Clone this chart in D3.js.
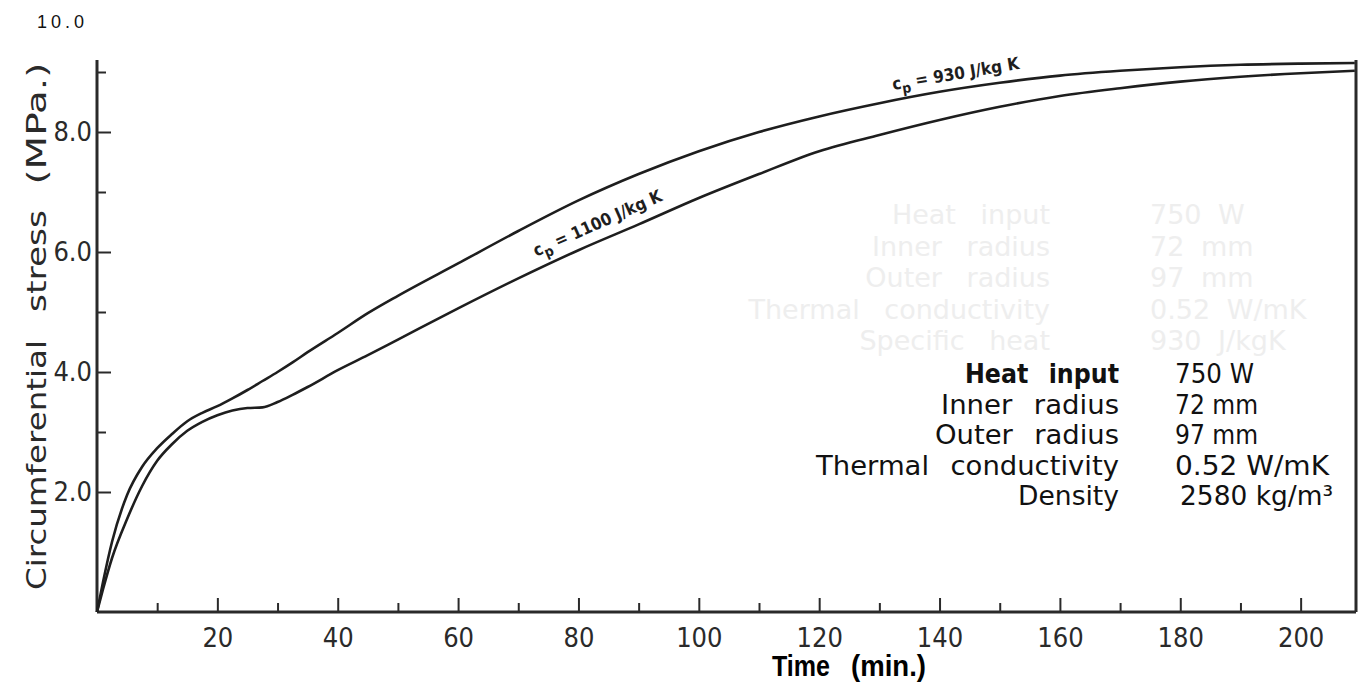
<!DOCTYPE html>
<html>
<head>
<meta charset="utf-8">
<script src="https://cdn.jsdelivr.net/npm/d3@7"></script>
<style>
  body { margin: 0; background: #fff; }
  svg { display: block; }
</style>
</head>
<body>
<script>
// values
var timeMin      = [0, 1, 2.5, 5, 7.5, 10, 12.5, 15, 17.5, 20, 22.5, 25, 27.5, 30, 32.5, 35, 40, 45, 50, 60, 70, 80, 90, 100, 110, 120, 130, 140, 150, 160, 170, 180, 190, 200, 209];
var stressCp930  = [0, 0.5, 1.17, 1.95, 2.42, 2.73, 2.97, 3.18, 3.32, 3.43, 3.56, 3.70, 3.85, 4.00, 4.16, 4.33, 4.65, 4.98, 5.27, 5.81, 6.35, 6.86, 7.30, 7.68, 8.00, 8.26, 8.48, 8.67, 8.82, 8.94, 9.02, 9.08, 9.12, 9.14, 9.15];
var stressCp1100 = [0, 0.38, 0.9, 1.55, 2.1, 2.52, 2.8, 3.02, 3.17, 3.28, 3.36, 3.40, 3.41, 3.50, 3.62, 3.75, 4.03, 4.28, 4.54, 5.06, 5.56, 6.03, 6.46, 6.90, 7.30, 7.68, 7.95, 8.20, 8.42, 8.60, 8.73, 8.84, 8.92, 8.98, 9.02];

var xMajorTicks = [20, 40, 60, 80, 100, 120, 140, 160, 180, 200];
var xMinorTicks = [10, 30, 50, 70, 90, 110, 130, 150, 170, 190];
var yMajorTicks = [2, 4, 6, 8];
var yMinorTicks = [3, 5, 7, 9];

var paramNames  = ["Heat input", "Inner radius", "Outer radius", "Thermal conductivity", "Density"];
var paramValues = ["750 W", "72 mm", "97 mm", "0.52 W/mK", "2580 kg/m\u00b3"];
// faint show-through from the other side of the page
var ghostNames  = ["Heat input", "Inner radius", "Outer radius", "Thermal conductivity", "Specific heat"];
var ghostValues = ["750 W", "72 mm", "97 mm", "0.52 W/mK", "930 J/kgK"];

// printed widths of the table entries
var nameWidths  = [154, 178, 184, 303, 101];
var valueWidths = [79, 83, 83, 154, 153];

var W = 1361, H = 687;
var cond = "'DejaVu Sans Condensed', 'Liberation Sans Narrow', sans-serif";
var wide = "'DejaVu Sans', Verdana, sans-serif";
var ink = "#1e1e1e";

var svg = d3.select("body").append("svg")
  .attr("width", W)
  .attr("height", H);

var x = d3.scaleLinear().domain([0, 209.2]).range([97, 1356]);
var y = d3.scaleLinear().domain([0, 10]).range([612, 12]);

// ghost text first so it sits behind
var ghost = svg.append("g").attr("fill", "#eeeeee")
  .style("font-family", wide).style("font-size", "27px");
ghost.selectAll("text.gn").data(ghostNames).enter().append("text")
  .attr("class", "gn")
  .attr("x", 1050)
  .attr("y", function(d, i){ return 224 + i * 31.5; })
  .attr("text-anchor", "end")
  .style("word-spacing", "16px")
  .text(function(d){ return d; });
ghost.selectAll("text.gv").data(ghostValues).enter().append("text")
  .attr("class", "gv")
  .attr("x", 1150)
  .attr("y", function(d, i){ return 224 + i * 31.5; })
  .style("word-spacing", "8px")
  .text(function(d){ return d; });

// frame lines
var frame = svg.append("g").attr("stroke", "#2a2a2a").attr("stroke-width", 3).attr("fill", "none");
frame.append("line").attr("x1", x(0)).attr("x2", x(0)).attr("y1", y(0)).attr("y2", y(9.2));
frame.append("line").attr("x1", x(209.2)).attr("x2", x(209.2)).attr("y1", y(0)).attr("y2", y(9.2));
frame.append("line").attr("x1", x(0)).attr("x2", x(209.2)).attr("y1", y(0)).attr("y2", y(0));

function styleAxis(g) {
  g.select(".domain").remove();
  g.selectAll(".tick line").attr("stroke", "#2a2a2a").attr("stroke-width", 2);
  g.selectAll(".tick text")
    .attr("fill", "#2a2a2a")
    .style("font-family", cond)
    .style("font-size", "27px");
}

svg.append("g").attr("transform", "translate(0," + y(0) + ")")
  .call(d3.axisBottom(x).tickValues(xMajorTicks).tickSizeInner(-14).tickSizeOuter(0).tickPadding(16))
  .call(styleAxis);
svg.append("g").attr("transform", "translate(0," + y(0) + ")")
  .call(d3.axisBottom(x).tickValues(xMinorTicks).tickSizeInner(-9).tickSizeOuter(0).tickFormat(""))
  .call(styleAxis);
svg.append("g").attr("transform", "translate(" + x(0) + ",0)")
  .call(d3.axisLeft(y).tickValues(yMajorTicks).tickSizeInner(-14).tickSizeOuter(0).tickPadding(5).tickFormat(d3.format(".1f")))
  .call(styleAxis);
svg.append("g").attr("transform", "translate(" + x(0) + ",0)")
  .call(d3.axisLeft(y).tickValues(yMinorTicks).tickSizeInner(-9).tickSizeOuter(0).tickFormat(""))
  .call(styleAxis);

// stray "10.0" label at the top
svg.append("text")
  .attr("x", 37).attr("y", 28)
  .attr("fill", "#111")
  .style("font-family", "'Liberation Sans', Arial, sans-serif")
  .style("font-size", "18px")
  .style("letter-spacing", "4px")
  .text(d3.format(".1f")(10));

// axis titles
var yTitleWords   = ["Circumferential", "stress", "(MPa.)"];
var yTitleCentres = [2.45, 5.85, 8.14];
var yTitleWidths  = [250, 102, 122];
svg.selectAll("text.ytitle").data(yTitleWords).enter().append("text")
  .attr("class", "ytitle")
  .attr("transform", function(d, i){ return "translate(46," + y(yTitleCentres[i]) + ") rotate(-90)"; })
  .attr("text-anchor", "middle")
  .attr("textLength", function(d, i){ return yTitleWidths[i]; })
  .attr("lengthAdjust", "spacingAndGlyphs")
  .attr("fill", "#2a2a2a")
  .style("font-family", wide)
  .style("font-size", "27px")
  .style("word-spacing", "6px")
  .text(function(d){ return d; });

var xTitle = svg.append("g").attr("fill", "#000")
  .style("font-family", "'Liberation Sans Narrow', 'Liberation Sans', Arial, sans-serif")
  .style("font-size", "29px")
  .style("font-weight", "bold");
xTitle.append("text").attr("x", 772).attr("y", 676)
  .attr("textLength", 58).attr("lengthAdjust", "spacingAndGlyphs").text("Time");
xTitle.append("text").attr("x", 851).attr("y", 676)
  .attr("textLength", 75).attr("lengthAdjust", "spacingAndGlyphs").text("(min.)");

// curves
var line = d3.line()
  .x(function(d){ return x(d[0]); })
  .y(function(d){ return y(d[1]); })
  .curve(d3.curveMonotoneX);

var series = [d3.zip(timeMin, stressCp930), d3.zip(timeMin, stressCp1100)];
svg.selectAll("path.curve").data(series).enter().append("path")
  .attr("class", "curve")
  .attr("d", line)
  .attr("fill", "none")
  .attr("stroke", ink)
  .attr("stroke-width", 2.6);

// curve labels
function cpLabel(t, v, angle, value) {
  var txt = svg.append("text")
    .attr("transform", "translate(" + x(t) + "," + y(v) + ") rotate(" + angle + ")")
    .attr("fill", ink)
    .style("font-family", cond)
    .style("font-size", "17px")
    .style("font-weight", "bold");
  txt.append("tspan").text("c");
  txt.append("tspan").attr("dy", 5).style("font-size", "14px").text("p");
  txt.append("tspan").attr("dy", -5).text(" = " + value + "  J/kg K");
}
cpLabel(73, 5.92, -24, "1100");
cpLabel(132.3, 8.7, -9.5, "930");

// parameter table
var table = svg.append("g").attr("fill", "#111")
  .style("font-family", wide).style("font-size", "26px");
table.selectAll("text.pn").data(paramNames).enter().append("text")
  .attr("class", "pn")
  .attr("x", 1119)
  .attr("y", function(d, i){ return 383 + i * 30.5; })
  .attr("text-anchor", "end")
  .attr("textLength", function(d, i){ return nameWidths[i]; })
  .attr("lengthAdjust", "spacingAndGlyphs")
  .style("font-family", function(d, i){ return i === 0 ? cond : wide; })
  .style("font-weight", function(d, i){ return i === 0 ? "bold" : "normal"; })
  .style("word-spacing", "12px")
  .text(function(d){ return d; });
table.selectAll("text.pv").data(paramValues).enter().append("text")
  .attr("class", "pv")
  .attr("x", function(d, i){ return i === 4 ? 1180 : 1175; })
  .attr("y", function(d, i){ return 383 + i * 30.5; })
  .attr("textLength", function(d, i){ return valueWidths[i]; })
  .attr("lengthAdjust", "spacingAndGlyphs")
  .text(function(d){ return d; });
</script>
</body>
</html>
